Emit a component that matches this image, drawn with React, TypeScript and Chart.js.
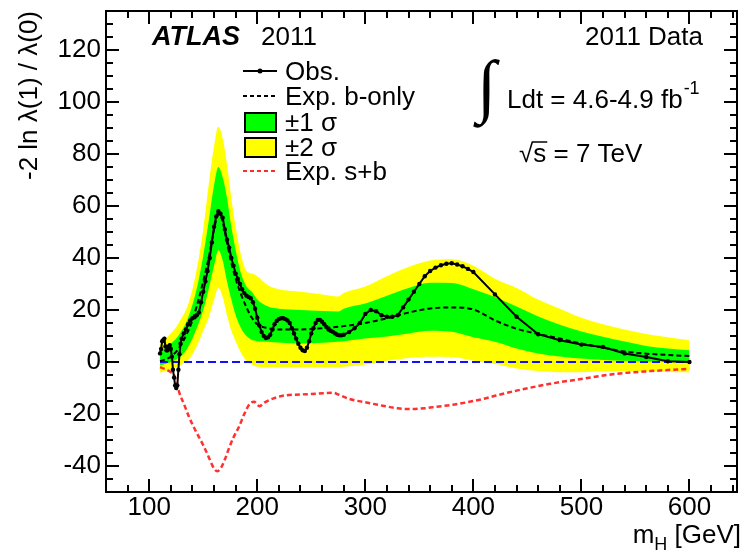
import React, { useEffect, useRef } from 'react';
import { Chart, registerables } from 'chart.js';

Chart.register(...registerables);

const FONT = "'Liberation Sans', Arial, Helvetica, sans-serif";

// axis ranges and ticks
const X_MIN = 60;
const X_MAX = 644;
const Y_MIN = -50;
const Y_MAX = 135;
const X_TICKS = [100, 200, 300, 400, 500, 600];
const Y_TICKS = [-40, -20, 0, 20, 40, 60, 80, 100, 120];
const X_MINOR_STEP = 20;
const Y_MINOR_STEP = 5;

// Observed
const OBS_MASS = [
  110, 111, 112, 113, 114, 115, 116, 117, 118, 119, 120, 121, 122, 123, 124, 125, 126, 127, 128, 129, 130,
  132, 134, 136, 138, 140, 142, 144, 146, 148, 150, 152, 154, 156, 158, 160, 162, 164, 166, 168, 170,
  172, 174, 176, 178, 180, 182, 184, 186, 188, 190, 192, 194, 196, 198, 200, 202, 204, 206, 208, 210,
  212, 214, 216, 218, 220, 222, 224, 226, 228, 230, 232, 234, 236, 238, 240, 242, 244, 246, 248, 250,
  252, 254, 256, 258, 260, 262, 264, 266, 268, 270, 272, 274, 276, 278, 280,
  285, 290, 295, 300, 305, 310, 315, 320, 325, 330, 335, 340, 345, 350, 355, 360, 365, 370, 375, 380,
  385, 390, 395, 400, 420, 440, 460, 480, 500, 520, 540, 560, 580, 600,
];
const OBS_VAL = [
  3.3, 5, 8, 8.5, 9, 6, 4.5, 4.5, 6, 6.5, 5, 2, -3, -6, -9, -10, -9, -3, 3, 7, 9,
  11, 12.5, 14.5, 16, 16.8, 17.2, 18, 19, 23, 27, 31, 35, 40, 46, 52, 56, 58, 57, 55.5, 51,
  47, 44, 40, 37, 34, 32, 30, 28, 26.5, 25.5, 25, 24.5, 23, 20.5, 17, 14, 11.5, 10, 9.2, 9.5,
  10.5, 12.5, 14.5, 15.8, 16.5, 16.8, 16.8, 16.5, 16, 15, 13, 11, 9, 7, 5.5, 4.5, 4.2, 5.5, 8, 11,
  13, 15, 16.2, 16.2, 15.5, 14.5, 13.5, 12.5, 12, 11.6, 11, 10.5, 10.3, 10.3, 10.5,
  11.5, 13, 15, 18.5, 20, 19.5, 18, 17.4, 17.4, 18, 21, 24, 27, 30, 33, 35, 36.3, 37.2, 37.8, 38,
  37.5, 36.8, 35.8, 34.6, 26, 17.4, 10.7, 8.4, 6.7, 5.8, 3.3, 1.9, 0.3, 0,
];

// Expected b-only
const EXP_MASS = [
  110, 115, 120, 125, 130, 135, 140, 145, 150, 155, 160, 163, 165, 168, 170, 175, 180, 185, 190, 195,
  200, 210, 220, 240, 260, 280, 300, 320, 340, 360, 380, 400, 420, 440, 460, 480, 500, 520, 540, 560, 580, 600,
];
const EXP_VAL = [
  0.3, 1, 2, 4, 7, 11, 16, 23, 31, 40, 51, 56, 57, 54, 50, 40, 32, 26, 21, 17,
  14.5, 13, 12.5, 12.5, 13, 13.8, 15, 16.8, 19, 20.6, 21, 20.2, 16, 12.8, 10.8, 9, 7.1, 5.5, 4, 3.2, 2.7, 2.3,
];

// +-1 sigma and +-2 sigma bands
const BAND_MASS = [
  110, 115, 120, 125, 130, 135, 140, 145, 150, 155, 160, 164, 168, 172, 176, 180, 185, 190, 195, 200,
  210, 220, 240, 260, 275, 280, 300, 320, 340, 360, 380, 400, 420, 440, 460, 480, 500, 520, 540, 560, 580, 600,
];
const Y2_HI = [
  7, 9, 11, 13.5, 17, 21, 28, 38, 51, 68, 83, 90.5, 86, 76, 63, 52, 41, 35, 34, 33,
  29.5, 28, 27, 26, 25.2, 26.5, 29, 33, 36.5, 39, 39.5, 37, 32, 28.5, 24, 20.5, 17, 14.5, 12.5, 10.8, 9.5, 8.4,
];
const Y1_HI = [
  4, 5.5, 7, 9, 12, 16, 22, 30, 41, 54, 68, 75, 71, 63, 52, 43, 34, 29, 27, 24,
  21.3, 20.5, 20, 19.6, 19.4, 20.5, 22.5, 25.5, 28.5, 30.5, 30.4, 28, 25, 21.3, 17.5, 14.3, 11.7, 9.7, 7.9, 6.2, 5.2, 4.5,
];
const Y1_LO = [
  -1.3, -0.8, 0, 1, 2.5, 5, 9, 14, 20, 28, 37, 43, 39, 31, 24, 18, 13, 10, 8.5, 8,
  7.8, 7.5, 7.1, 7.4, 7.8, 8, 9, 9.8, 11, 12, 11.6, 9.5, 7.8, 5.2, 3.3, 2.1, 1.3, 0.8, 0.5, 0.3, 0.2, 0.2,
];
const Y2_LO = [
  -4, -3.5, -3, -2, -1, 0.5, 3, 7, 12, 17, 24, 28.5, 25, 18, 12, 8, 3.5, 0.5, -1, -1.8,
  -2, -2, -2, -2, -2, -1.8, -1, 0.5, 1.5, 2, 1.9, 0.5, -0.8, -2.5, -3.5, -3.9, -3.9, -3.6, -3.5, -3.6, -3.8, -3.9,
];

// Expected s+b
const SB_MASS = [
  110, 115, 120, 123, 126, 128, 132, 137, 143, 150, 155, 160, 163, 166, 170, 174, 178, 183, 188, 193, 197,
  202, 207, 215, 225, 240, 255, 270, 275, 285, 300, 316, 330, 341, 355, 366, 380, 394, 409, 421, 440, 471,
  502, 533, 564, 600,
];
const SB_VAL = [
  -2, -2.8, -3.9, -5, -9, -12, -16, -21.3, -26.5, -32, -36.5, -41, -42, -41, -37.5, -33, -29, -25, -20, -16.1, -15.3,
  -17, -15.5, -14, -12.9, -12.5, -12.2, -11.8, -12.5, -14.2, -15.5, -16.8, -17.8, -18.1, -17.8, -17.2, -16.5, -15.5, -14.2, -12.9, -11, -8.4,
  -6.4, -4.5, -3.5, -2.6,
];

// zero reference line
const ZERO_MASS = [110, 600];
const ZERO_VAL = [0, 0];

const LEGEND_LABELS = ['Obs.', 'Exp. b-only', '\u00B11 \u03C3', '\u00B12 \u03C3', 'Exp. s+b'];

const pts = (m: number[], v: number[]) => m.map((x, i) => ({ x, y: v[i] }));

const decorPlugin = {
  id: 'atlasDecor',
  afterDraw(chart: any) {
    const { ctx, chartArea: a, scales } = chart;
    const xs = scales.x;
    const ys = scales.y;
    ctx.save();
    const line = (x1: number, y1: number, x2: number, y2: number) => {
      ctx.beginPath();
      ctx.moveTo(x1, y1);
      ctx.lineTo(x2, y2);
      ctx.stroke();
    };
    ctx.strokeStyle = '#000';
    ctx.lineWidth = 2;
    ctx.setLineDash([]);
    // x ticks (bottom and top, pointing inward)
    for (let v = Math.ceil(X_MIN / X_MINOR_STEP) * X_MINOR_STEP; v < X_MAX; v += X_MINOR_STEP) {
      if (v <= X_MIN) continue;
      const px = Math.round(xs.getPixelForValue(v));
      const len = X_TICKS.includes(v) ? 13 : 7;
      line(px, a.bottom, px, a.bottom - len);
      line(px, a.top, px, a.top + len);
    }
    for (let v = Math.ceil(Y_MIN / Y_MINOR_STEP) * Y_MINOR_STEP; v < Y_MAX; v += Y_MINOR_STEP) {
      if (v <= Y_MIN) continue;
      const py = Math.round(ys.getPixelForValue(v));
      const len = Y_TICKS.includes(v) ? 13 : 7;
      line(a.left, py, a.left + len, py);
      line(a.right, py, a.right - len, py);
    }
    ctx.strokeRect(a.left, a.top, a.right - a.left, a.bottom - a.top);

    // x title m_H [GeV]
    ctx.fillStyle = '#000';
    ctx.textBaseline = 'alphabetic';
    ctx.textAlign = 'left';
    ctx.font = `26px ${FONT}`;
    const wM = ctx.measureText('m').width;
    const wRest = ctx.measureText(' [GeV]').width;
    ctx.font = `18px ${FONT}`;
    const wH = ctx.measureText('H').width;
    const xEnd = 741;
    const x0 = xEnd - wRest - wH - wM;
    ctx.font = `26px ${FONT}`;
    ctx.fillText('m', x0, 543);
    ctx.font = `18px ${FONT}`;
    ctx.fillText('H', x0 + wM, 550);
    ctx.font = `26px ${FONT}`;
    ctx.fillText(' [GeV]', x0 + wM + wH, 543);

    // ATLAS 2011
    ctx.font = `bold italic 27px ${FONT}`;
    ctx.fillText('ATLAS', 152, 45);
    ctx.font = `26px ${FONT}`;
    ctx.fillText('2011', 261, 45);
    ctx.textAlign = 'right';
    ctx.fillText('2011 Data', 703, 45);
    ctx.textAlign = 'left';

    // luminosity
    ctx.font = `70px 'Liberation Serif', 'DejaVu Serif', serif`;
    ctx.fillText('\u222B', 477, 109);
    ctx.font = `26px ${FONT}`;
    const lumi = 'Ldt = 4.6-4.9 fb';
    ctx.fillText(lumi, 507, 108);
    const wl = ctx.measureText(lumi).width;
    ctx.font = `18px ${FONT}`;
    ctx.fillText('-1', 507 + wl + 1, 94);

    // sqrt(s)
    ctx.font = `26px ${FONT}`;
    const wSq = ctx.measureText('\u221A').width;
    const wS = ctx.measureText('s').width;
    ctx.fillText('\u221A', 519, 162);
    ctx.fillText('s = 7 TeV', 519 + wSq, 162);
    ctx.lineWidth = 1.5;
    line(519 + wSq - 1, 142, 519 + wSq + wS + 1, 142);

    // legend
    const rows = [71, 96, 122, 147, 171];
    const lx0 = 243;
    const lx1 = 277;
    ctx.lineWidth = 2;
    ctx.strokeStyle = '#000';
    line(lx0, rows[0], lx1, rows[0]);
    ctx.beginPath();
    ctx.arc((lx0 + lx1) / 2, rows[0], 2.5, 0, Math.PI * 2);
    ctx.fillStyle = '#000';
    ctx.fill();
    ctx.setLineDash([4, 3]);
    line(lx0, rows[1], lx1, rows[1]);
    ctx.setLineDash([]);
    ctx.fillStyle = '#00ff00';
    ctx.fillRect(245, rows[2] - 9, 31, 19);
    ctx.strokeRect(245, rows[2] - 9, 31, 19);
    ctx.fillStyle = '#ffff00';
    ctx.fillRect(245, rows[3] - 9, 31, 19);
    ctx.strokeRect(245, rows[3] - 9, 31, 19);
    ctx.strokeStyle = '#ff2a2a';
    ctx.setLineDash([4, 3]);
    line(lx0, rows[4], lx1, rows[4]);
    ctx.setLineDash([]);
    ctx.fillStyle = '#000';
    ctx.font = `26px ${FONT}`;
    LEGEND_LABELS.forEach((t, i) => ctx.fillText(t, 285, rows[i] + 9));
    ctx.restore();
  },
};

export default function App() {
  const ref = useRef<HTMLCanvasElement | null>(null);
  useEffect(() => {
    if (!ref.current) return;
    const smooth = { cubicInterpolationMode: 'monotone' as const };
    const chart = new Chart(ref.current, {
      type: 'line',
      data: {
        datasets: [
          {
            label: 'y2hi', data: pts(BAND_MASS, Y2_HI), fill: 1, backgroundColor: '#ffff00',
            borderWidth: 0, pointRadius: 0, ...smooth, order: 10,
          },
          {
            label: 'y2lo', data: pts(BAND_MASS, Y2_LO), fill: false,
            borderWidth: 0, pointRadius: 0, ...smooth, order: 9,
          },
          {
            label: 'y1hi', data: pts(BAND_MASS, Y1_HI), fill: 3, backgroundColor: '#00ff00',
            borderWidth: 0, pointRadius: 0, ...smooth, order: 8,
          },
          {
            label: 'y1lo', data: pts(BAND_MASS, Y1_LO), fill: false,
            borderWidth: 0, pointRadius: 0, ...smooth, order: 7,
          },
          {
            label: 'zero', data: pts(ZERO_MASS, ZERO_VAL), fill: false, borderColor: '#1010ff',
            borderWidth: 2, borderDash: [8, 4], pointRadius: 0, order: 6,
          },
          {
            label: 's+b', data: pts(SB_MASS, SB_VAL), fill: false, borderColor: '#ff3030',
            borderWidth: 2.5, borderDash: [5, 3], pointRadius: 0, ...smooth, order: 5,
          },
          {
            label: 'exp', data: pts(EXP_MASS, EXP_VAL), fill: false, borderColor: '#000',
            borderWidth: 2, borderDash: [5, 3], pointRadius: 0, ...smooth, order: 4,
          },
          {
            label: 'obs', data: pts(OBS_MASS, OBS_VAL), fill: false, borderColor: '#000',
            borderWidth: 2, pointRadius: 2.2, pointBorderWidth: 0, pointBackgroundColor: '#000',
            tension: 0, order: 1,
          },
        ],
      },
      options: {
        responsive: false,
        animation: false,
        layout: { padding: { top: 11, right: 7, left: 0, bottom: 0 } },
        plugins: { legend: { display: false }, tooltip: { enabled: false } },
        scales: {
          x: {
            type: 'linear', min: X_MIN, max: X_MAX, position: 'bottom',
            grid: { display: false, drawTicks: false }, border: { display: false },
            ticks: {
              font: { family: FONT, size: 26, lineHeight: 1.2 }, color: '#000', padding: 0,
              maxRotation: 0, autoSkip: false, callback: (v: any) => String(v),
            },
            afterBuildTicks: (s: any) => { s.ticks = X_TICKS.map((value) => ({ value })); },
            afterFit: (s: any) => { s.height = 62; s.paddingLeft = 0; s.paddingRight = 0; },
          },
          y: {
            type: 'linear', min: Y_MIN, max: Y_MAX,
            grid: { display: false, drawTicks: false }, border: { display: false },
            ticks: {
              font: { family: FONT, size: 26, lineHeight: 1.2 }, color: '#000', padding: 5,
              autoSkip: false, callback: (v: any) => String(v),
            },
            title: {
              display: true, text: '-2 ln \u03BB(1) / \u03BB(0)', align: 'end', color: '#000',
              font: { family: FONT, size: 26, lineHeight: 1.2 }, padding: { top: 14, bottom: 0 },
            },
            afterBuildTicks: (s: any) => { s.ticks = Y_TICKS.map((value) => ({ value })); },
            afterFit: (s: any) => { s.width = 106; s.paddingTop = 0; s.paddingBottom = 0; },
          },
        },
      },
      plugins: [decorPlugin],
    } as any);
    return () => chart.destroy();
  }, []);
  return (
    <div style={{ position: 'absolute', left: 0, top: 0, width: 744, height: 554, background: '#fff' }}>
      <canvas ref={ref} width={744} height={554} style={{ display: 'block' }} />
    </div>
  );
}
